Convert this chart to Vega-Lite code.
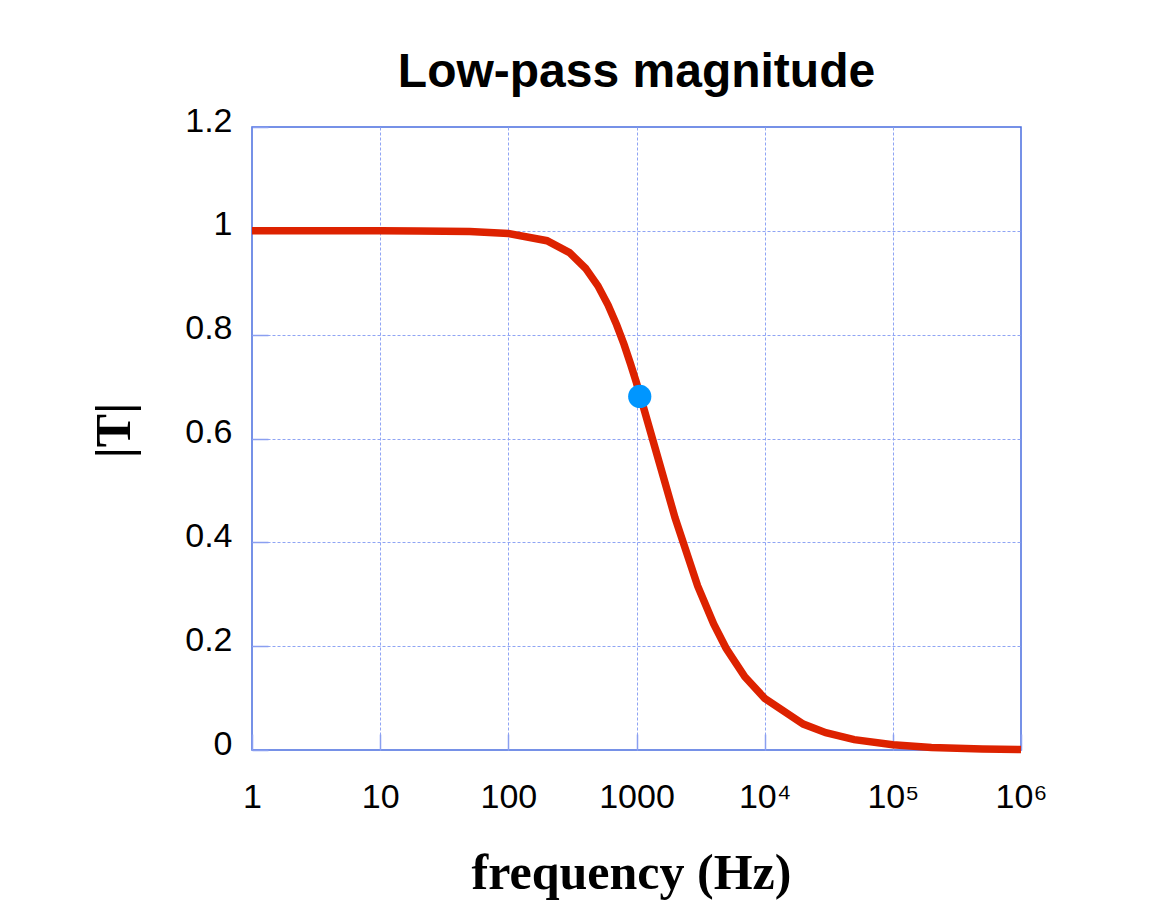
{
  "$schema": "https://vega.github.io/schema/vega-lite/v6.json",
  "width": 769,
  "height": 623,
  "autosize": {"type": "none"},
  "padding": {"left": 252, "top": 127, "right": 133, "bottom": 166},
  "background": "white",
  "title": {
    "text": "Low-pass magnitude",
    "font": "Liberation Sans",
    "fontSize": 48,
    "fontWeight": "bold",
    "color": "black",
    "anchor": "middle",
    "baseline": "alphabetic",
    "frame": "group",
    "offset": -31
  },
  "config": {
    "view": {"stroke": "#4a6ee0", "strokeWidth": 1.5},
    "axis": {
      "labelFont": "Liberation Sans",
      "labelFontSize": 34,
      "labelColor": "black",
      "titleFont": "Liberation Serif",
      "titleFontWeight": "bold",
      "titleFontSize": 50,
      "titleColor": "black",
      "domain": false,
      "grid": true,
      "gridColor": "#8fa4f4",
      "gridDash": [3, 2],
      "gridWidth": 1,
      "ticks": true,
      "tickSize": -16,
      "tickColor": "#8a9ff0",
      "tickWidth": 1.5
    }
  },
  "datasets": {
    "curve": [
      {"f": 1, "T": 1.0},
      {"f": 10, "T": 0.99995},
      {"f": 20, "T": 0.9998},
      {"f": 50, "T": 0.9988},
      {"f": 100, "T": 0.995},
      {"f": 200, "T": 0.981},
      {"f": 300, "T": 0.958},
      {"f": 400, "T": 0.928},
      {"f": 500, "T": 0.894},
      {"f": 600, "T": 0.857},
      {"f": 700, "T": 0.819},
      {"f": 800, "T": 0.781},
      {"f": 900, "T": 0.743},
      {"f": 1000, "T": 0.707},
      {"f": 1500, "T": 0.555},
      {"f": 2000, "T": 0.447},
      {"f": 3000, "T": 0.316},
      {"f": 4000, "T": 0.243},
      {"f": 5000, "T": 0.196},
      {"f": 7000, "T": 0.141},
      {"f": 10000, "T": 0.0995},
      {"f": 20000, "T": 0.05},
      {"f": 30000, "T": 0.0333},
      {"f": 50000, "T": 0.02},
      {"f": 100000, "T": 0.01},
      {"f": 200000, "T": 0.005},
      {"f": 500000, "T": 0.002},
      {"f": 1000000, "T": 0.001}
    ],
    "marker": [
      {"f": 1060, "T": 0.681}
    ]
  },
  "layer": [
    {
      "data": {"name": "curve"},
      "mark": {"type": "line", "color": "#dd2200", "strokeWidth": 7.5, "clip": false},
      "encoding": {
        "x": {
          "field": "f",
          "type": "quantitative",
          "scale": {"type": "log", "domain": [1, 1000000], "nice": false},
          "axis": {
            "title": "frequency (Hz)",
            "values": [1, 10, 100, 1000, 10000, 100000, 1000000],
            "labelExpr": "datum.value == 10000 ? '10⁴' : datum.value == 100000 ? '10⁵' : datum.value == 1000000 ? '10⁶' : format(datum.value, 'd')",
            "labelBaseline": "top",
            "labelPadding": 46,
            "labelFlush": false,
            "gridOpacity": {"condition": {"test": "datum.value == 1 || datum.value == 1000000", "value": 0}, "value": 1},
            "titleX": 379,
            "titleY": 138,
            "titleBaseline": "alphabetic",
            "titleAnchor": null,
            "titleAlign": "center"
          }
        },
        "y": {
          "field": "T",
          "type": "quantitative",
          "scale": {"domain": [0, 1.2], "nice": false},
          "axis": {
            "title": "|T|",
            "values": [0, 0.2, 0.4, 0.6, 0.8, 1, 1.2],
            "format": ".1~f",
            "labelPadding": 36,
            "labelBaseline": "middle",
            "labelOffset": -6,
            "labelFlush": false,
            "gridOpacity": {"condition": {"test": "datum.value == 0 || datum.value == 1.2", "value": 0}, "value": 1},
            "titleX": -138,
            "titleY": 303,
            "titleAngle": -90,
            "titleAlign": "center",
            "titleBaseline": "middle"
          }
        }
      }
    },
    {
      "data": {"name": "marker"},
      "mark": {"type": "circle", "color": "#0096ff", "opacity": 1, "size": 540},
      "encoding": {
        "x": {"field": "f", "type": "quantitative"},
        "y": {"field": "T", "type": "quantitative"}
      }
    }
  ]
}
